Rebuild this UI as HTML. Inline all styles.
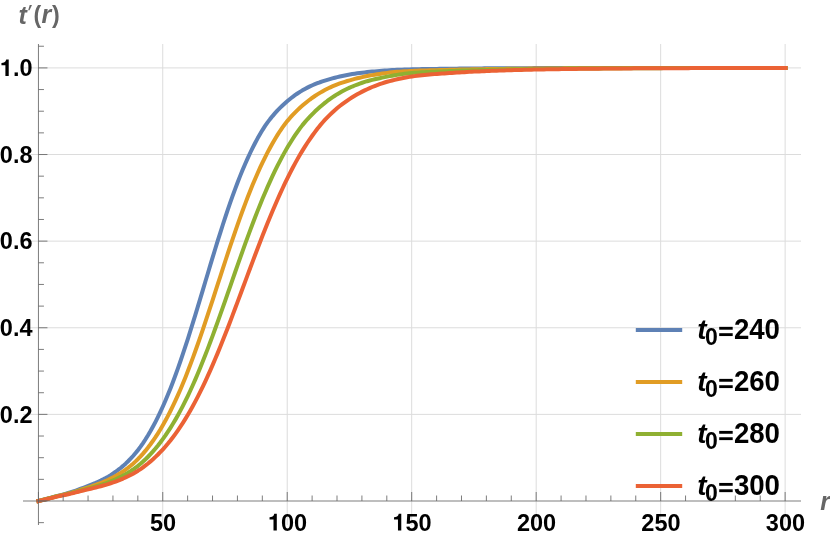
<!DOCTYPE html>
<html><head><meta charset="utf-8"><title>plot</title>
<style>
html,body{margin:0;padding:0;background:#fff;}
body{width:830px;height:538px;overflow:hidden;position:relative;font-family:"Liberation Sans",sans-serif;}
svg{position:absolute;left:0;top:0;display:block;will-change:transform;}
svg text{font-family:"Liberation Sans",sans-serif;}
.tk{font-weight:bold;font-size:23.5px;fill:#000;}
.lg{font-weight:bold;font-size:28px;fill:#000;}
.ld{font-weight:bold;font-size:29.4px;fill:#000;}
.ls{font-weight:bold;font-size:23px;fill:#000;}
.ax{font-weight:bold;font-style:italic;font-size:25px;fill:#666;}
.ap{font-weight:bold;font-size:23.2px;fill:#666;}
</style></head><body>
<svg width="830" height="538" viewBox="0 0 830 538">
<rect x="0" y="0" width="830" height="538" fill="#ffffff"/>
<g stroke="#dcdcdc" stroke-width="1" fill="none">
<line x1="162.74" y1="44" x2="162.74" y2="525"/>
<line x1="287.22" y1="44" x2="287.22" y2="525"/>
<line x1="411.70" y1="44" x2="411.70" y2="525"/>
<line x1="536.18" y1="44" x2="536.18" y2="525"/>
<line x1="660.66" y1="44" x2="660.66" y2="525"/>
<line x1="785.14" y1="44" x2="785.14" y2="525"/>
<line x1="23" y1="414.38" x2="801" y2="414.38"/>
<line x1="23" y1="327.76" x2="801" y2="327.76"/>
<line x1="23" y1="241.14" x2="801" y2="241.14"/>
<line x1="23" y1="154.52" x2="801" y2="154.52"/>
<line x1="23" y1="67.90" x2="801" y2="67.90"/>
</g>
<path d="M38.45,501.00 L40.94,500.36 L43.43,499.71 L45.92,499.05 L48.41,498.39 L50.90,497.72 L53.39,497.05 L55.88,496.37 L58.37,495.69 L60.86,495.07 L63.36,494.43 L65.85,493.75 L68.34,493.01 L70.83,492.22 L73.32,491.39 L75.81,490.53 L78.30,489.63 L80.79,488.71 L83.28,487.77 L85.77,486.83 L88.26,485.87 L90.75,484.91 L93.24,483.90 L95.73,482.86 L98.22,481.75 L100.71,480.59 L103.20,479.35 L105.69,478.03 L108.18,476.62 L110.67,475.10 L113.17,473.48 L115.66,471.75 L118.15,469.92 L120.64,467.96 L123.13,465.88 L125.62,463.65 L128.11,461.27 L130.60,458.72 L133.09,455.99 L135.58,453.07 L138.07,449.94 L140.56,446.60 L143.05,443.03 L145.54,439.24 L148.03,435.23 L150.52,430.99 L153.01,426.52 L155.50,421.81 L157.99,416.85 L160.48,411.66 L162.97,406.21 L165.47,400.51 L167.96,394.57 L170.45,388.38 L172.94,381.95 L175.43,375.28 L177.92,368.39 L180.41,361.28 L182.90,353.96 L185.39,346.45 L187.88,338.77 L190.37,330.93 L192.86,322.95 L195.35,314.86 L197.84,306.67 L200.33,298.41 L202.82,290.10 L205.31,281.78 L207.80,273.45 L210.29,265.16 L212.79,256.92 L215.28,248.77 L217.77,240.71 L220.26,232.78 L222.75,224.99 L225.24,217.36 L227.73,209.92 L230.22,202.67 L232.71,195.64 L235.20,188.82 L237.69,182.24 L240.18,175.89 L242.67,169.79 L245.16,163.93 L247.65,158.33 L250.14,152.97 L252.63,147.86 L255.12,142.99 L257.61,138.36 L260.10,133.98 L262.59,129.82 L265.09,125.93 L267.58,122.38 L270.07,119.12 L272.56,116.07 L275.05,113.18 L277.54,110.44 L280.03,107.89 L282.52,105.49 L285.01,103.21 L287.50,101.02 L289.99,98.96 L292.48,97.02 L294.97,95.20 L297.46,93.49 L299.95,91.87 L302.44,90.36 L304.93,88.95 L307.42,87.63 L309.91,86.40 L312.40,85.25 L314.90,84.18 L317.39,83.19 L319.88,82.26 L322.37,81.40 L324.86,80.59 L327.35,79.83 L329.84,79.09 L332.33,78.39 L334.82,77.72 L337.31,77.09 L339.80,76.50 L342.29,75.95 L344.78,75.43 L347.27,74.95 L349.76,74.50 L352.25,74.08 L354.74,73.69 L357.23,73.33 L359.72,73.00 L362.21,72.68 L364.71,72.39 L367.20,72.11 L369.69,71.86 L372.18,71.61 L374.67,71.39 L377.16,71.17 L379.65,70.97 L382.14,70.77 L384.63,70.59 L387.12,70.41 L389.61,70.26 L392.10,70.11 L394.59,69.98 L397.08,69.85 L399.57,69.74 L402.06,69.64 L404.55,69.55 L407.04,69.47 L409.53,69.39 L412.02,69.32 L414.52,69.26 L417.01,69.21 L419.50,69.16 L421.99,69.11 L424.48,69.07 L426.97,69.03 L429.46,68.99 L431.95,68.96 L434.44,68.93 L436.93,68.89 L439.42,68.86 L441.91,68.82 L444.40,68.79 L446.89,68.75 L449.38,68.72 L451.87,68.69 L454.36,68.66 L456.85,68.63 L459.34,68.60 L461.83,68.57 L464.33,68.55 L466.82,68.52 L469.31,68.50 L471.80,68.48 L474.29,68.45 L476.78,68.43 L479.27,68.41 L481.76,68.39 L484.25,68.37 L486.74,68.36 L489.23,68.34 L491.72,68.32 L494.21,68.31 L496.70,68.29 L499.19,68.28 L501.68,68.26 L504.17,68.25 L506.66,68.23 L509.15,68.22 L511.64,68.21 L514.14,68.20 L516.63,68.19 L519.12,68.17 L521.61,68.16 L524.10,68.15 L526.59,68.14 L529.08,68.14 L531.57,68.13 L534.06,68.12 L536.55,68.11 L539.04,68.10 L541.53,68.09 L544.02,68.09 L546.51,68.08 L549.00,68.07 L551.49,68.07 L553.98,68.06 L556.47,68.05 L558.96,68.05 L561.46,68.04 L563.95,68.04 L566.44,68.03 L568.93,68.03 L571.42,68.02 L573.91,68.02 L576.40,68.01 L578.89,68.01 L581.38,68.00 L583.87,68.00 L586.36,68.00 L588.85,67.99 L591.34,67.99 L593.83,67.99 L596.32,67.98 L598.81,67.98 L601.30,67.98 L603.79,67.97 L606.28,67.97 L608.77,67.97 L611.26,67.96 L613.76,67.96 L616.25,67.96 L618.74,67.96 L621.23,67.96 L623.72,67.95 L626.21,67.95 L628.70,67.95 L631.19,67.95 L633.68,67.95 L636.17,67.94 L638.66,67.94 L641.15,67.94 L643.64,67.94 L646.13,67.94 L648.62,67.94 L651.11,67.93 L653.60,67.93 L656.09,67.93 L658.58,67.93 L661.08,67.93 L663.57,67.93 L666.06,67.93 L668.55,67.93 L671.04,67.93 L673.53,67.92 L676.02,67.92 L678.51,67.92 L681.00,67.92 L683.49,67.92 L685.98,67.92 L688.47,67.92 L690.96,67.92 L693.45,67.92 L695.94,67.92 L698.43,67.92 L700.92,67.92 L703.41,67.92 L705.90,67.91 L708.39,67.91 L710.88,67.91 L713.38,67.91 L715.87,67.91 L718.36,67.91 L720.85,67.91 L723.34,67.91 L725.83,67.91 L728.32,67.91 L730.81,67.91 L733.30,67.91 L735.79,67.91 L738.28,67.91 L740.77,67.91 L743.26,67.91 L745.75,67.91 L748.24,67.91 L750.73,67.91 L753.22,67.91 L755.71,67.91 L758.20,67.91 L760.70,67.91 L763.19,67.91 L765.68,67.91 L768.17,67.91 L770.66,67.91 L773.15,67.91 L775.64,67.90 L778.13,67.90 L780.62,67.90 L783.11,67.90 L785.60,67.90" fill="none" stroke="#5e81b5" stroke-width="4" stroke-linejoin="round" stroke-linecap="square"/>
<path d="M38.45,501.00 L40.94,500.39 L43.43,499.76 L45.92,499.13 L48.41,498.50 L50.90,497.86 L53.39,497.21 L55.88,496.56 L58.37,495.91 L60.86,495.35 L63.36,494.77 L65.85,494.16 L68.34,493.51 L70.83,492.81 L73.32,492.08 L75.81,491.32 L78.30,490.54 L80.79,489.74 L83.28,488.94 L85.77,488.13 L88.26,487.34 L90.75,486.53 L93.24,485.71 L95.73,484.85 L98.22,483.95 L100.71,483.01 L103.20,482.01 L105.69,480.95 L108.18,479.82 L110.67,478.61 L113.17,477.33 L115.66,475.96 L118.15,474.51 L120.64,472.97 L123.13,471.34 L125.62,469.61 L128.11,467.75 L130.60,465.77 L133.09,463.65 L135.58,461.39 L138.07,458.96 L140.56,456.37 L143.05,453.60 L145.54,450.66 L148.03,447.54 L150.52,444.26 L153.01,440.79 L155.50,437.14 L157.99,433.29 L160.48,429.25 L162.97,425.00 L165.47,420.55 L167.96,415.90 L170.45,411.03 L172.94,405.95 L175.43,400.65 L177.92,395.15 L180.41,389.43 L182.90,383.51 L185.39,377.39 L187.88,371.08 L190.37,364.57 L192.86,357.89 L195.35,351.04 L197.84,344.03 L200.33,336.88 L202.82,329.61 L205.31,322.22 L207.80,314.73 L210.29,307.17 L212.79,299.55 L215.28,291.89 L217.77,284.21 L220.26,276.53 L222.75,268.87 L225.24,261.25 L227.73,253.69 L230.22,246.20 L232.71,238.81 L235.20,231.53 L237.69,224.38 L240.18,217.37 L242.67,210.51 L245.16,203.83 L247.65,197.32 L250.14,190.99 L252.63,184.86 L255.12,178.93 L257.61,173.20 L260.10,167.68 L262.59,162.37 L265.09,157.28 L267.58,152.39 L270.07,147.71 L272.56,143.24 L275.05,138.97 L277.54,134.91 L280.03,131.04 L282.52,127.36 L285.01,123.99 L287.50,120.87 L289.99,117.96 L292.48,115.22 L294.97,112.60 L297.46,110.11 L299.95,107.79 L302.44,105.59 L304.93,103.48 L307.42,101.46 L309.91,99.54 L312.40,97.73 L314.90,96.01 L317.39,94.40 L319.88,92.86 L322.37,91.42 L324.86,90.05 L327.35,88.77 L329.84,87.57 L332.33,86.44 L334.82,85.39 L337.31,84.39 L339.80,83.47 L342.29,82.60 L344.78,81.78 L347.27,81.02 L349.76,80.30 L352.25,79.61 L354.74,78.94 L357.23,78.30 L359.72,77.69 L362.21,77.12 L364.71,76.57 L367.20,76.06 L369.69,75.58 L372.18,75.13 L374.67,74.70 L377.16,74.30 L379.65,73.91 L382.14,73.54 L384.63,73.20 L387.12,72.88 L389.61,72.58 L392.10,72.31 L394.59,72.06 L397.08,71.84 L399.57,71.63 L402.06,71.45 L404.55,71.28 L407.04,71.14 L409.53,71.00 L412.02,70.89 L414.52,70.78 L417.01,70.69 L419.50,70.61 L421.99,70.53 L424.48,70.46 L426.97,70.40 L429.46,70.34 L431.95,70.28 L434.44,70.22 L436.93,70.16 L439.42,70.10 L441.91,70.03 L444.40,69.97 L446.89,69.91 L449.38,69.84 L451.87,69.79 L454.36,69.73 L456.85,69.67 L459.34,69.62 L461.83,69.57 L464.33,69.51 L466.82,69.47 L469.31,69.42 L471.80,69.37 L474.29,69.33 L476.78,69.28 L479.27,69.24 L481.76,69.20 L484.25,69.16 L486.74,69.12 L489.23,69.08 L491.72,69.05 L494.21,69.01 L496.70,68.98 L499.19,68.95 L501.68,68.91 L504.17,68.88 L506.66,68.85 L509.15,68.82 L511.64,68.80 L514.14,68.77 L516.63,68.74 L519.12,68.72 L521.61,68.69 L524.10,68.67 L526.59,68.64 L529.08,68.62 L531.57,68.60 L534.06,68.58 L536.55,68.56 L539.04,68.54 L541.53,68.52 L544.02,68.50 L546.51,68.48 L549.00,68.46 L551.49,68.45 L553.98,68.43 L556.47,68.41 L558.96,68.40 L561.46,68.38 L563.95,68.37 L566.44,68.35 L568.93,68.34 L571.42,68.33 L573.91,68.31 L576.40,68.30 L578.89,68.29 L581.38,68.28 L583.87,68.26 L586.36,68.25 L588.85,68.24 L591.34,68.23 L593.83,68.22 L596.32,68.21 L598.81,68.20 L601.30,68.19 L603.79,68.18 L606.28,68.18 L608.77,68.17 L611.26,68.16 L613.76,68.15 L616.25,68.14 L618.74,68.14 L621.23,68.13 L623.72,68.12 L626.21,68.12 L628.70,68.11 L631.19,68.10 L633.68,68.10 L636.17,68.09 L638.66,68.08 L641.15,68.08 L643.64,68.07 L646.13,68.07 L648.62,68.06 L651.11,68.06 L653.60,68.05 L656.09,68.05 L658.58,68.04 L661.08,68.04 L663.57,68.04 L666.06,68.03 L668.55,68.03 L671.04,68.02 L673.53,68.02 L676.02,68.02 L678.51,68.01 L681.00,68.01 L683.49,68.01 L685.98,68.00 L688.47,68.00 L690.96,68.00 L693.45,67.99 L695.94,67.99 L698.43,67.99 L700.92,67.98 L703.41,67.98 L705.90,67.98 L708.39,67.98 L710.88,67.98 L713.38,67.97 L715.87,67.97 L718.36,67.97 L720.85,67.97 L723.34,67.96 L725.83,67.96 L728.32,67.96 L730.81,67.96 L733.30,67.96 L735.79,67.96 L738.28,67.95 L740.77,67.95 L743.26,67.95 L745.75,67.95 L748.24,67.95 L750.73,67.95 L753.22,67.94 L755.71,67.94 L758.20,67.94 L760.70,67.94 L763.19,67.94 L765.68,67.94 L768.17,67.94 L770.66,67.94 L773.15,67.93 L775.64,67.93 L778.13,67.93 L780.62,67.93 L783.11,67.93 L785.60,67.93" fill="none" stroke="#e19c24" stroke-width="4" stroke-linejoin="round" stroke-linecap="square"/>
<path d="M38.45,501.00 L40.94,500.38 L43.43,499.75 L45.92,499.12 L48.41,498.48 L50.90,497.83 L53.39,497.18 L55.88,496.52 L58.37,495.87 L60.86,495.37 L63.36,494.87 L65.85,494.35 L68.34,493.78 L70.83,493.18 L73.32,492.55 L75.81,491.90 L78.30,491.23 L80.79,490.55 L83.28,489.87 L85.77,489.20 L88.26,488.54 L90.75,487.88 L93.24,487.20 L95.73,486.50 L98.22,485.77 L100.71,485.00 L103.20,484.19 L105.69,483.33 L108.18,482.42 L110.67,481.45 L113.17,480.41 L115.66,479.30 L118.15,478.14 L120.64,476.92 L123.13,475.62 L125.62,474.24 L128.11,472.77 L130.60,471.20 L133.09,469.52 L135.58,467.72 L138.07,465.80 L140.56,463.75 L143.05,461.55 L145.54,459.21 L148.03,456.75 L150.52,454.14 L153.01,451.40 L155.50,448.51 L157.99,445.47 L160.48,442.28 L162.97,438.93 L165.47,435.41 L167.96,431.72 L170.45,427.86 L172.94,423.82 L175.43,419.61 L177.92,415.21 L180.41,410.63 L182.90,405.87 L185.39,400.92 L187.88,395.79 L190.37,390.48 L192.86,384.99 L195.35,379.33 L197.84,373.50 L200.33,367.50 L202.82,361.35 L205.31,355.04 L207.80,348.60 L210.29,342.03 L212.79,335.33 L215.28,328.54 L217.77,321.65 L220.26,314.68 L222.75,307.64 L225.24,300.55 L227.73,293.43 L230.22,286.29 L232.71,279.15 L235.20,272.02 L237.69,264.92 L240.18,257.86 L242.67,250.86 L245.16,243.93 L247.65,237.09 L250.14,230.35 L252.63,223.73 L255.12,217.23 L257.61,210.86 L260.10,204.64 L262.59,198.57 L265.09,192.66 L267.58,186.91 L270.07,181.34 L272.56,175.94 L275.05,170.72 L277.54,165.68 L280.03,160.82 L282.52,156.14 L285.01,151.65 L287.50,147.33 L289.99,143.19 L292.48,139.23 L294.97,135.44 L297.46,131.82 L299.95,128.36 L302.44,125.13 L304.93,122.12 L307.42,119.30 L309.91,116.62 L312.40,114.05 L314.90,111.58 L317.39,109.24 L319.88,107.03 L322.37,104.92 L324.86,102.90 L327.35,100.95 L329.84,99.10 L332.33,97.35 L334.82,95.71 L337.31,94.17 L339.80,92.72 L342.29,91.34 L344.78,90.03 L347.27,88.80 L349.76,87.63 L352.25,86.53 L354.74,85.50 L357.23,84.52 L359.72,83.60 L362.21,82.74 L364.71,81.94 L367.20,81.20 L369.69,80.52 L372.18,79.90 L374.67,79.32 L377.16,78.75 L379.65,78.19 L382.14,77.64 L384.63,77.12 L387.12,76.62 L389.61,76.14 L392.10,75.69 L394.59,75.26 L397.08,74.85 L399.57,74.47 L402.06,74.11 L404.55,73.79 L407.04,73.50 L409.53,73.25 L412.02,73.02 L414.52,72.81 L417.01,72.63 L419.50,72.46 L421.99,72.31 L424.48,72.17 L426.97,72.04 L429.46,71.92 L431.95,71.81 L434.44,71.70 L436.93,71.60 L439.42,71.49 L441.91,71.38 L444.40,71.28 L446.89,71.17 L449.38,71.07 L451.87,70.98 L454.36,70.88 L456.85,70.79 L459.34,70.70 L461.83,70.62 L464.33,70.54 L466.82,70.46 L469.31,70.38 L471.80,70.30 L474.29,70.23 L476.78,70.16 L479.27,70.09 L481.76,70.02 L484.25,69.96 L486.74,69.89 L489.23,69.83 L491.72,69.77 L494.21,69.72 L496.70,69.66 L499.19,69.61 L501.68,69.56 L504.17,69.51 L506.66,69.46 L509.15,69.41 L511.64,69.36 L514.14,69.32 L516.63,69.27 L519.12,69.23 L521.61,69.19 L524.10,69.15 L526.59,69.11 L529.08,69.08 L531.57,69.04 L534.06,69.01 L536.55,68.97 L539.04,68.94 L541.53,68.91 L544.02,68.88 L546.51,68.85 L549.00,68.82 L551.49,68.79 L553.98,68.76 L556.47,68.74 L558.96,68.71 L561.46,68.69 L563.95,68.66 L566.44,68.64 L568.93,68.62 L571.42,68.60 L573.91,68.57 L576.40,68.55 L578.89,68.53 L581.38,68.51 L583.87,68.50 L586.36,68.48 L588.85,68.46 L591.34,68.44 L593.83,68.43 L596.32,68.41 L598.81,68.39 L601.30,68.38 L603.79,68.36 L606.28,68.35 L608.77,68.34 L611.26,68.32 L613.76,68.31 L616.25,68.30 L618.74,68.29 L621.23,68.27 L623.72,68.26 L626.21,68.25 L628.70,68.24 L631.19,68.23 L633.68,68.22 L636.17,68.21 L638.66,68.20 L641.15,68.19 L643.64,68.18 L646.13,68.17 L648.62,68.17 L651.11,68.16 L653.60,68.15 L656.09,68.14 L658.58,68.13 L661.08,68.13 L663.57,68.12 L666.06,68.11 L668.55,68.11 L671.04,68.10 L673.53,68.09 L676.02,68.09 L678.51,68.08 L681.00,68.08 L683.49,68.07 L685.98,68.07 L688.47,68.06 L690.96,68.06 L693.45,68.05 L695.94,68.05 L698.43,68.04 L700.92,68.04 L703.41,68.03 L705.90,68.03 L708.39,68.03 L710.88,68.02 L713.38,68.02 L715.87,68.02 L718.36,68.01 L720.85,68.01 L723.34,68.00 L725.83,68.00 L728.32,68.00 L730.81,68.00 L733.30,67.99 L735.79,67.99 L738.28,67.99 L740.77,67.98 L743.26,67.98 L745.75,67.98 L748.24,67.98 L750.73,67.97 L753.22,67.97 L755.71,67.97 L758.20,67.97 L760.70,67.97 L763.19,67.96 L765.68,67.96 L768.17,67.96 L770.66,67.96 L773.15,67.96 L775.64,67.95 L778.13,67.95 L780.62,67.95 L783.11,67.95 L785.60,67.95" fill="none" stroke="#8fb032" stroke-width="4" stroke-linejoin="round" stroke-linecap="square"/>
<path d="M38.45,501.00 L40.94,500.43 L43.43,499.86 L45.92,499.28 L48.41,498.69 L50.90,498.10 L53.39,497.50 L55.88,496.90 L58.37,496.30 L60.86,495.80 L63.36,495.30 L65.85,494.78 L68.34,494.22 L70.83,493.64 L73.32,493.03 L75.81,492.40 L78.30,491.76 L80.79,491.13 L83.28,490.50 L85.77,489.88 L88.26,489.28 L90.75,488.70 L93.24,488.11 L95.73,487.50 L98.22,486.88 L100.71,486.23 L103.20,485.55 L105.69,484.83 L108.18,484.08 L110.67,483.27 L113.17,482.42 L115.66,481.52 L118.15,480.57 L120.64,479.58 L123.13,478.54 L125.62,477.43 L128.11,476.25 L130.60,475.00 L133.09,473.66 L135.58,472.22 L138.07,470.69 L140.56,469.05 L143.05,467.29 L145.54,465.42 L148.03,463.45 L150.52,461.38 L153.01,459.19 L155.50,456.89 L157.99,454.48 L160.48,451.94 L162.97,449.27 L165.47,446.47 L167.96,443.54 L170.45,440.47 L172.94,437.25 L175.43,433.89 L177.92,430.38 L180.41,426.71 L182.90,422.89 L185.39,418.91 L187.88,414.77 L190.37,410.48 L192.86,406.01 L195.35,401.39 L197.84,396.61 L200.33,391.66 L202.82,386.56 L205.31,381.30 L207.80,375.90 L210.29,370.34 L212.79,364.65 L215.28,358.82 L217.77,352.86 L220.26,346.78 L222.75,340.59 L225.24,334.29 L227.73,327.91 L230.22,321.44 L232.71,314.90 L235.20,308.31 L237.69,301.67 L240.18,295.00 L242.67,288.30 L245.16,281.60 L247.65,274.91 L250.14,268.23 L252.63,261.59 L255.12,254.99 L257.61,248.45 L260.10,241.98 L262.59,235.59 L265.09,229.29 L267.58,223.09 L270.07,217.00 L272.56,211.02 L275.05,205.18 L277.54,199.47 L280.03,193.90 L282.52,188.47 L285.01,183.19 L287.50,178.07 L289.99,173.10 L292.48,168.29 L294.97,163.64 L297.46,159.15 L299.95,154.82 L302.44,150.65 L304.93,146.63 L307.42,142.77 L309.91,139.07 L312.40,135.52 L314.90,132.10 L317.39,128.79 L319.88,125.65 L322.37,122.72 L324.86,119.96 L327.35,117.34 L329.84,114.84 L332.33,112.44 L334.82,110.16 L337.31,108.01 L339.80,106.00 L342.29,104.10 L344.78,102.29 L347.27,100.54 L349.76,98.86 L352.25,97.27 L354.74,95.75 L357.23,94.31 L359.72,92.94 L362.21,91.63 L364.71,90.38 L367.20,89.20 L369.69,88.08 L372.18,87.02 L374.67,86.02 L377.16,85.07 L379.65,84.16 L382.14,83.31 L384.63,82.52 L387.12,81.78 L389.61,81.09 L392.10,80.45 L394.59,79.85 L397.08,79.29 L399.57,78.75 L402.06,78.24 L404.55,77.76 L407.04,77.31 L409.53,76.89 L412.02,76.49 L414.52,76.12 L417.01,75.79 L419.50,75.49 L421.99,75.22 L424.48,74.97 L426.97,74.74 L429.46,74.52 L431.95,74.32 L434.44,74.13 L436.93,73.94 L439.42,73.75 L441.91,73.57 L444.40,73.39 L446.89,73.21 L449.38,73.04 L451.87,72.88 L454.36,72.72 L456.85,72.56 L459.34,72.42 L461.83,72.27 L464.33,72.13 L466.82,72.00 L469.31,71.86 L471.80,71.74 L474.29,71.62 L476.78,71.50 L479.27,71.38 L481.76,71.27 L484.25,71.16 L486.74,71.06 L489.23,70.96 L491.72,70.86 L494.21,70.76 L496.70,70.67 L499.19,70.58 L501.68,70.50 L504.17,70.42 L506.66,70.34 L509.15,70.26 L511.64,70.18 L514.14,70.11 L516.63,70.04 L519.12,69.97 L521.61,69.90 L524.10,69.84 L526.59,69.78 L529.08,69.72 L531.57,69.66 L534.06,69.60 L536.55,69.55 L539.04,69.50 L541.53,69.44 L544.02,69.40 L546.51,69.35 L549.00,69.30 L551.49,69.26 L553.98,69.21 L556.47,69.17 L558.96,69.13 L561.46,69.09 L563.95,69.05 L566.44,69.02 L568.93,68.98 L571.42,68.95 L573.91,68.91 L576.40,68.88 L578.89,68.85 L581.38,68.82 L583.87,68.79 L586.36,68.76 L588.85,68.73 L591.34,68.71 L593.83,68.68 L596.32,68.66 L598.81,68.63 L601.30,68.61 L603.79,68.59 L606.28,68.56 L608.77,68.54 L611.26,68.52 L613.76,68.50 L616.25,68.48 L618.74,68.46 L621.23,68.45 L623.72,68.43 L626.21,68.41 L628.70,68.40 L631.19,68.38 L633.68,68.36 L636.17,68.35 L638.66,68.33 L641.15,68.32 L643.64,68.31 L646.13,68.29 L648.62,68.28 L651.11,68.27 L653.60,68.26 L656.09,68.25 L658.58,68.24 L661.08,68.22 L663.57,68.21 L666.06,68.20 L668.55,68.19 L671.04,68.19 L673.53,68.18 L676.02,68.17 L678.51,68.16 L681.00,68.15 L683.49,68.14 L685.98,68.13 L688.47,68.13 L690.96,68.12 L693.45,68.11 L695.94,68.11 L698.43,68.10 L700.92,68.09 L703.41,68.09 L705.90,68.08 L708.39,68.08 L710.88,68.07 L713.38,68.06 L715.87,68.06 L718.36,68.05 L720.85,68.05 L723.34,68.04 L725.83,68.04 L728.32,68.03 L730.81,68.03 L733.30,68.03 L735.79,68.02 L738.28,68.02 L740.77,68.01 L743.26,68.01 L745.75,68.01 L748.24,68.00 L750.73,68.00 L753.22,68.00 L755.71,67.99 L758.20,67.99 L760.70,67.99 L763.19,67.99 L765.68,67.98 L768.17,67.98 L770.66,67.98 L773.15,67.98 L775.64,67.97 L778.13,67.97 L780.62,67.97 L783.11,67.97 L785.60,67.96" fill="none" stroke="#eb6235" stroke-width="4" stroke-linejoin="round" stroke-linecap="square"/>
<g stroke="#666666" stroke-width="0.85" fill="none">
<line x1="23" y1="501.0" x2="801" y2="501.0"/>
<line x1="38.45" y1="44" x2="38.45" y2="525"/>
<line x1="38.45" y1="501.0" x2="38.45" y2="492.0"/>
<line x1="63.16" y1="501.0" x2="63.16" y2="495.5"/>
<line x1="88.05" y1="501.0" x2="88.05" y2="495.5"/>
<line x1="112.95" y1="501.0" x2="112.95" y2="495.5"/>
<line x1="137.84" y1="501.0" x2="137.84" y2="495.5"/>
<line x1="162.74" y1="501.0" x2="162.74" y2="492.0"/>
<line x1="187.64" y1="501.0" x2="187.64" y2="495.5"/>
<line x1="212.53" y1="501.0" x2="212.53" y2="495.5"/>
<line x1="237.43" y1="501.0" x2="237.43" y2="495.5"/>
<line x1="262.32" y1="501.0" x2="262.32" y2="495.5"/>
<line x1="287.22" y1="501.0" x2="287.22" y2="492.0"/>
<line x1="312.12" y1="501.0" x2="312.12" y2="495.5"/>
<line x1="337.01" y1="501.0" x2="337.01" y2="495.5"/>
<line x1="361.91" y1="501.0" x2="361.91" y2="495.5"/>
<line x1="386.80" y1="501.0" x2="386.80" y2="495.5"/>
<line x1="411.70" y1="501.0" x2="411.70" y2="492.0"/>
<line x1="436.60" y1="501.0" x2="436.60" y2="495.5"/>
<line x1="461.49" y1="501.0" x2="461.49" y2="495.5"/>
<line x1="486.39" y1="501.0" x2="486.39" y2="495.5"/>
<line x1="511.28" y1="501.0" x2="511.28" y2="495.5"/>
<line x1="536.18" y1="501.0" x2="536.18" y2="492.0"/>
<line x1="561.08" y1="501.0" x2="561.08" y2="495.5"/>
<line x1="585.97" y1="501.0" x2="585.97" y2="495.5"/>
<line x1="610.87" y1="501.0" x2="610.87" y2="495.5"/>
<line x1="635.76" y1="501.0" x2="635.76" y2="495.5"/>
<line x1="660.66" y1="501.0" x2="660.66" y2="492.0"/>
<line x1="685.56" y1="501.0" x2="685.56" y2="495.5"/>
<line x1="710.45" y1="501.0" x2="710.45" y2="495.5"/>
<line x1="735.35" y1="501.0" x2="735.35" y2="495.5"/>
<line x1="760.24" y1="501.0" x2="760.24" y2="495.5"/>
<line x1="785.14" y1="501.0" x2="785.14" y2="492.0"/>
<line x1="38.45" y1="522.65" x2="43.95" y2="522.65"/>
<line x1="38.45" y1="501.00" x2="47.45" y2="501.00"/>
<line x1="38.45" y1="479.35" x2="43.95" y2="479.35"/>
<line x1="38.45" y1="457.69" x2="43.95" y2="457.69"/>
<line x1="38.45" y1="436.03" x2="43.95" y2="436.03"/>
<line x1="38.45" y1="414.38" x2="47.45" y2="414.38"/>
<line x1="38.45" y1="392.73" x2="43.95" y2="392.73"/>
<line x1="38.45" y1="371.07" x2="43.95" y2="371.07"/>
<line x1="38.45" y1="349.41" x2="43.95" y2="349.41"/>
<line x1="38.45" y1="327.76" x2="47.45" y2="327.76"/>
<line x1="38.45" y1="306.11" x2="43.95" y2="306.11"/>
<line x1="38.45" y1="284.45" x2="43.95" y2="284.45"/>
<line x1="38.45" y1="262.79" x2="43.95" y2="262.79"/>
<line x1="38.45" y1="241.14" x2="47.45" y2="241.14"/>
<line x1="38.45" y1="219.48" x2="43.95" y2="219.48"/>
<line x1="38.45" y1="197.83" x2="43.95" y2="197.83"/>
<line x1="38.45" y1="176.17" x2="43.95" y2="176.17"/>
<line x1="38.45" y1="154.52" x2="47.45" y2="154.52"/>
<line x1="38.45" y1="132.86" x2="43.95" y2="132.86"/>
<line x1="38.45" y1="111.21" x2="43.95" y2="111.21"/>
<line x1="38.45" y1="89.55" x2="43.95" y2="89.55"/>
<line x1="38.45" y1="67.90" x2="47.45" y2="67.90"/>
<line x1="38.45" y1="46.24" x2="43.95" y2="46.24"/>
</g>
<text class="tk" x="149.97" y="530.50">50</text>
<path d="M276.80,530.50 L273.49,530.50 L273.49,519.60 L269.54,519.60 L269.54,517.32 C271.68,517.27 273.80,516.63 274.29,513.82 L276.80,513.82 Z" fill="#000"/>
<text class="tk" x="280.99" y="530.50">00</text>
<path d="M401.28,530.50 L397.97,530.50 L397.97,519.60 L394.02,519.60 L394.02,517.32 C396.16,517.27 398.28,516.63 398.77,513.82 L401.28,513.82 Z" fill="#000"/>
<text class="tk" x="405.47" y="530.50">50</text>
<text class="tk" x="516.88" y="530.50">200</text>
<text class="tk" x="641.36" y="530.50">250</text>
<text class="tk" x="765.84" y="530.50">300</text>
<text class="tk" x="-0.17" y="422.58">0.2</text>
<text class="tk" x="-0.17" y="335.96">0.4</text>
<text class="tk" x="-0.17" y="249.34">0.6</text>
<text class="tk" x="-0.17" y="162.72">0.8</text>
<path d="M8.72,76.10 L5.40,76.10 L5.40,65.20 L1.46,65.20 L1.46,62.92 C3.59,62.87 5.71,62.23 6.20,59.41 L8.72,59.41 Z" fill="#000"/>
<text class="tk" x="12.90" y="76.10">.0</text>
<text class="ax" x="18.6" y="23.6">t</text>
<path d="M29.7,5.0 L32.0,5.0 L29.5,10.2 L28.2,10.2 Z" fill="#666"/>
<text class="ap" x="33.5" y="23.200000000000003">(</text>
<text class="ax" x="41.4" y="23.1">r</text>
<text class="ap" x="52.0" y="23.200000000000003">)</text>
<text class="ax" x="820.2" y="510">r</text>
<line x1="635.8" y1="329.9" x2="682.2" y2="329.9" stroke="#5e81b5" stroke-width="4"/>
<text class="lg" x="697.3" y="338.6" font-style="italic">t</text>
<text class="ls" x="704.9" y="344.6">0</text>
<rect x="719.2" y="326.85" width="13.5" height="2.85" fill="#000"/>
<rect x="719.2" y="333.20" width="13.5" height="2.85" fill="#000"/>
<text class="ld" transform="translate(733.9,338.6) scale(0.94,1)" x="0" y="0">240</text>
<line x1="635.8" y1="381.9" x2="682.2" y2="381.9" stroke="#e19c24" stroke-width="4"/>
<text class="lg" x="697.3" y="390.7" font-style="italic">t</text>
<text class="ls" x="704.9" y="396.7">0</text>
<rect x="719.2" y="378.88" width="13.5" height="2.85" fill="#000"/>
<rect x="719.2" y="385.23" width="13.5" height="2.85" fill="#000"/>
<text class="ld" transform="translate(733.9,390.7) scale(0.94,1)" x="0" y="0">260</text>
<line x1="635.8" y1="434.0" x2="682.2" y2="434.0" stroke="#8fb032" stroke-width="4"/>
<text class="lg" x="697.3" y="442.7" font-style="italic">t</text>
<text class="ls" x="704.9" y="448.7">0</text>
<rect x="719.2" y="430.91" width="13.5" height="2.85" fill="#000"/>
<rect x="719.2" y="437.26" width="13.5" height="2.85" fill="#000"/>
<text class="ld" transform="translate(733.9,442.7) scale(0.94,1)" x="0" y="0">280</text>
<line x1="635.8" y1="486.0" x2="682.2" y2="486.0" stroke="#eb6235" stroke-width="4"/>
<text class="lg" x="697.3" y="494.7" font-style="italic">t</text>
<text class="ls" x="704.9" y="500.7">0</text>
<rect x="719.2" y="482.94" width="13.5" height="2.85" fill="#000"/>
<rect x="719.2" y="489.29" width="13.5" height="2.85" fill="#000"/>
<text class="ld" transform="translate(733.9,494.7) scale(0.94,1)" x="0" y="0">300</text>
</svg>
</body></html>
